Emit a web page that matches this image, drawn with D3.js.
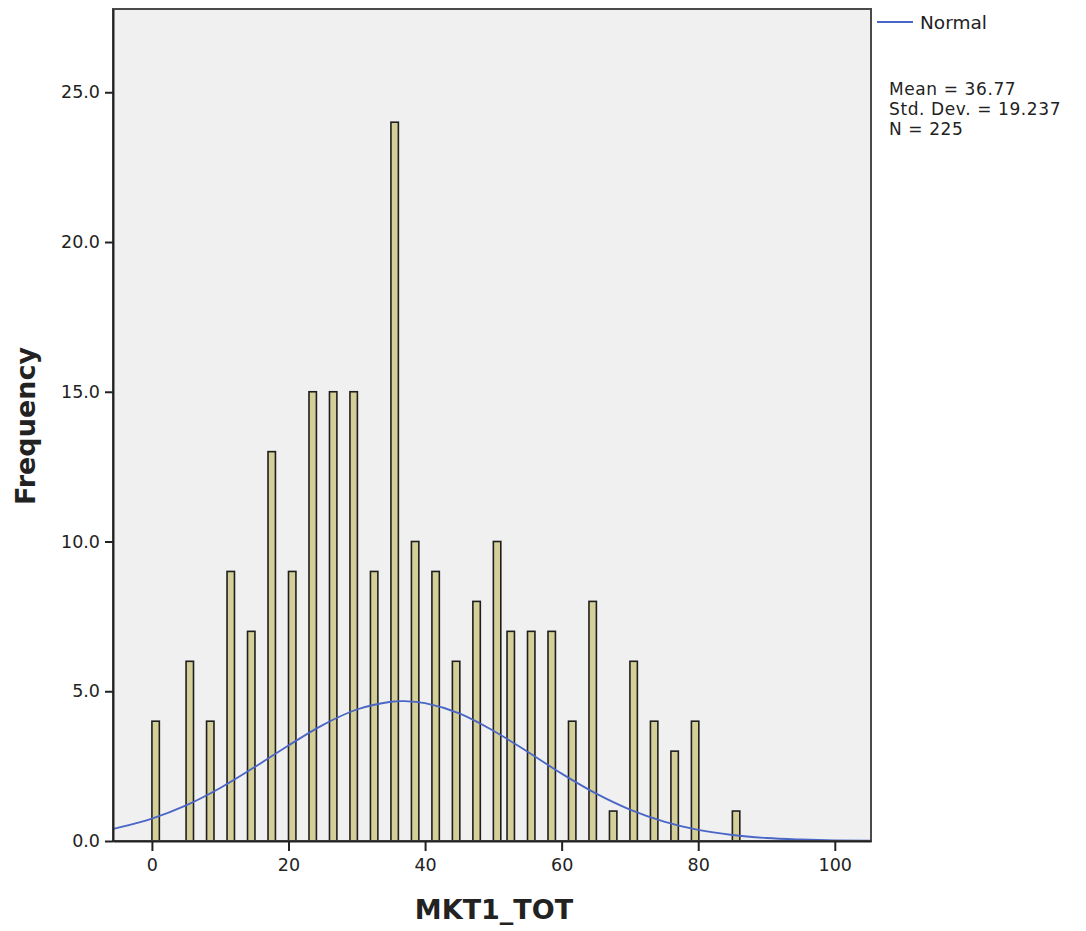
<!DOCTYPE html>
<html lang="en">

<head>
  <meta charset="UTF-8">
  <title>MKT1_TOT histogram</title>
  <style>
    body {
      margin: 0;
      background: #fff;
    }

    #chart text {
      font-family: "DejaVu Sans", sans-serif;
      fill: #222;
    }
  </style>
</head>

<body>

  <div id="chart"></div>

  <script src="https://cdnjs.cloudflare.com/ajax/libs/d3/7.8.5/d3.min.js"></script>
  <script>
    // bins are one unit wide, each value is the start of its bin
    const binStarts = [0, 5, 8, 11, 14, 17, 20, 23, 26, 29, 32, 35, 38, 41, 44,
      47, 50, 52, 55, 58, 61, 64, 67, 70, 73, 76, 79, 85]
    const frequencies = [4, 6, 4, 9, 7, 13, 9, 15, 15, 15, 9, 24, 10, 9, 6,
      8, 10, 7, 7, 7, 4, 8, 1, 6, 4, 3, 4, 1]

    // normal curve, every 5 units
    const curveX = [-6, -5, 0, 5, 10, 15, 20, 25, 30, 35, 37, 40, 45, 50, 55,
      60, 65, 70, 75, 80, 85, 90, 95, 100, 105, 110]
    const curveY = [0.39, 0.44, 0.75, 1.19, 1.77, 2.46, 3.19, 3.87, 4.39, 4.65, 4.67, 4.6, 4.26, 3.68, 2.98,
      2.25, 1.59, 1.05, 0.65, 0.37, 0.2, 0.1, 0.05, 0.02, 0.01, 0.0]

    const xTicks = [0, 20, 40, 60, 80, 100]
    const yTicks = [0, 5, 10, 15, 20, 25]
    const statLines = ['Mean = 36.77', 'Std. Dev. = 19.237', 'N = 225']

    const data = binStarts.map((b, i) => ({ start: b, count: frequencies[i] }))
    const curve = curveX.map((v, i) => ({ x: v, y: curveY[i] }))

    const W = 1086
    const H = 931
    const margin = { top: 9, right: 215, bottom: 90, left: 113 }
    const width = W - margin.left - margin.right
    const height = H - margin.top - margin.bottom

    const xScale = d3.scaleLinear()
      .domain([-5.7, 105.3])
      .range([0, width])

    const yScale = d3.scaleLinear()
      .domain([0, 27.78])
      .range([height, 0])

    const svg = d3.select('#chart')
      .append('svg')
      .attr('width', W)
      .attr('height', H)

    const g = svg.append('g')
      .attr('transform', `translate(${margin.left}, ${margin.top})`)

    // plot background
    g.append('rect')
      .attr('width', width)
      .attr('height', height)
      .attr('fill', '#f0f0f0')

    svg.append('clipPath')
      .attr('id', 'plotClip')
      .append('rect')
      .attr('width', width)
      .attr('height', height)

    // bars
    g.selectAll('.bar')
      .data(data)
      .enter()
      .append('rect')
      .attr('class', 'bar')
      .attr('x', d => xScale(d.start))
      .attr('width', d => xScale(d.start + 1) - xScale(d.start) + 0.6)
      .attr('y', d => yScale(d.count))
      .attr('height', d => height - yScale(d.count))
      .attr('fill', '#d4cf98')
      .attr('stroke', '#1e1e1e')
      .attr('stroke-width', 1.6)

    // normal curve
    const line = d3.line()
      .x(d => xScale(d.x))
      .y(d => yScale(d.y))
      .curve(d3.curveCatmullRom)

    g.append('path')
      .datum(curve)
      .attr('clip-path', 'url(#plotClip)')
      .attr('d', line)
      .attr('fill', 'none')
      .attr('stroke', '#4a66c6')
      .attr('stroke-width', 1.8)

    // frame
    g.append('rect')
      .attr('width', width)
      .attr('height', height)
      .attr('fill', 'none')
      .attr('stroke', '#4a4a4a')
      .attr('stroke-width', 2)

    // axes
    const xAxis = g.append('g')
      .attr('transform', `translate(0, ${height})`)
      .call(d3.axisBottom(xScale).tickValues(xTicks).tickSize(10).tickSizeOuter(0).tickPadding(8).tickFormat(d3.format('d')))

    const yAxis = g.append('g')
      .call(d3.axisLeft(yScale).tickValues(yTicks).tickSize(8).tickSizeOuter(0).tickPadding(5).tickFormat(d3.format('.1f')))

    ;[xAxis, yAxis].forEach(a => {
      a.select('.domain').attr('stroke', '#222').attr('stroke-width', 2)
      a.selectAll('.tick line').attr('stroke', '#222').attr('stroke-width', 2)
      a.selectAll('.tick text').style('font-size', '17.5px').attr('fill', '#222')
    })

    // axis titles
    svg.append('text')
      .attr('x', 494)
      .attr('y', 919)
      .attr('text-anchor', 'middle')
      .style('font-size', '27px')
      .style('font-weight', 'bold')
      .text('MKT1_TOT')

    svg.append('text')
      .attr('transform', 'translate(35, 426) rotate(-90)')
      .attr('text-anchor', 'middle')
      .style('font-size', '27px')
      .style('font-weight', 'bold')
      .text('Frequency')

    // legend
    svg.append('line')
      .attr('x1', 877)
      .attr('x2', 913)
      .attr('y1', 22)
      .attr('y2', 22)
      .attr('stroke', '#4a66c6')
      .attr('stroke-width', 1.8)

    svg.append('text')
      .attr('x', 920)
      .attr('y', 29)
      .style('font-size', '18.5px')
      .text('Normal')

    // stat lines sit close together, keep them just clear of each other
    svg.selectAll('.stat')
      .data(statLines)
      .enter()
      .append('text')
      .attr('class', 'stat')
      .attr('x', 889)
      .attr('y', (d, i) => 95 + i * 20)
      .style('font-size', '17px')
      .style('letter-spacing', '0.6px')
      .text(d => d)
  </script>
</body>

</html>
